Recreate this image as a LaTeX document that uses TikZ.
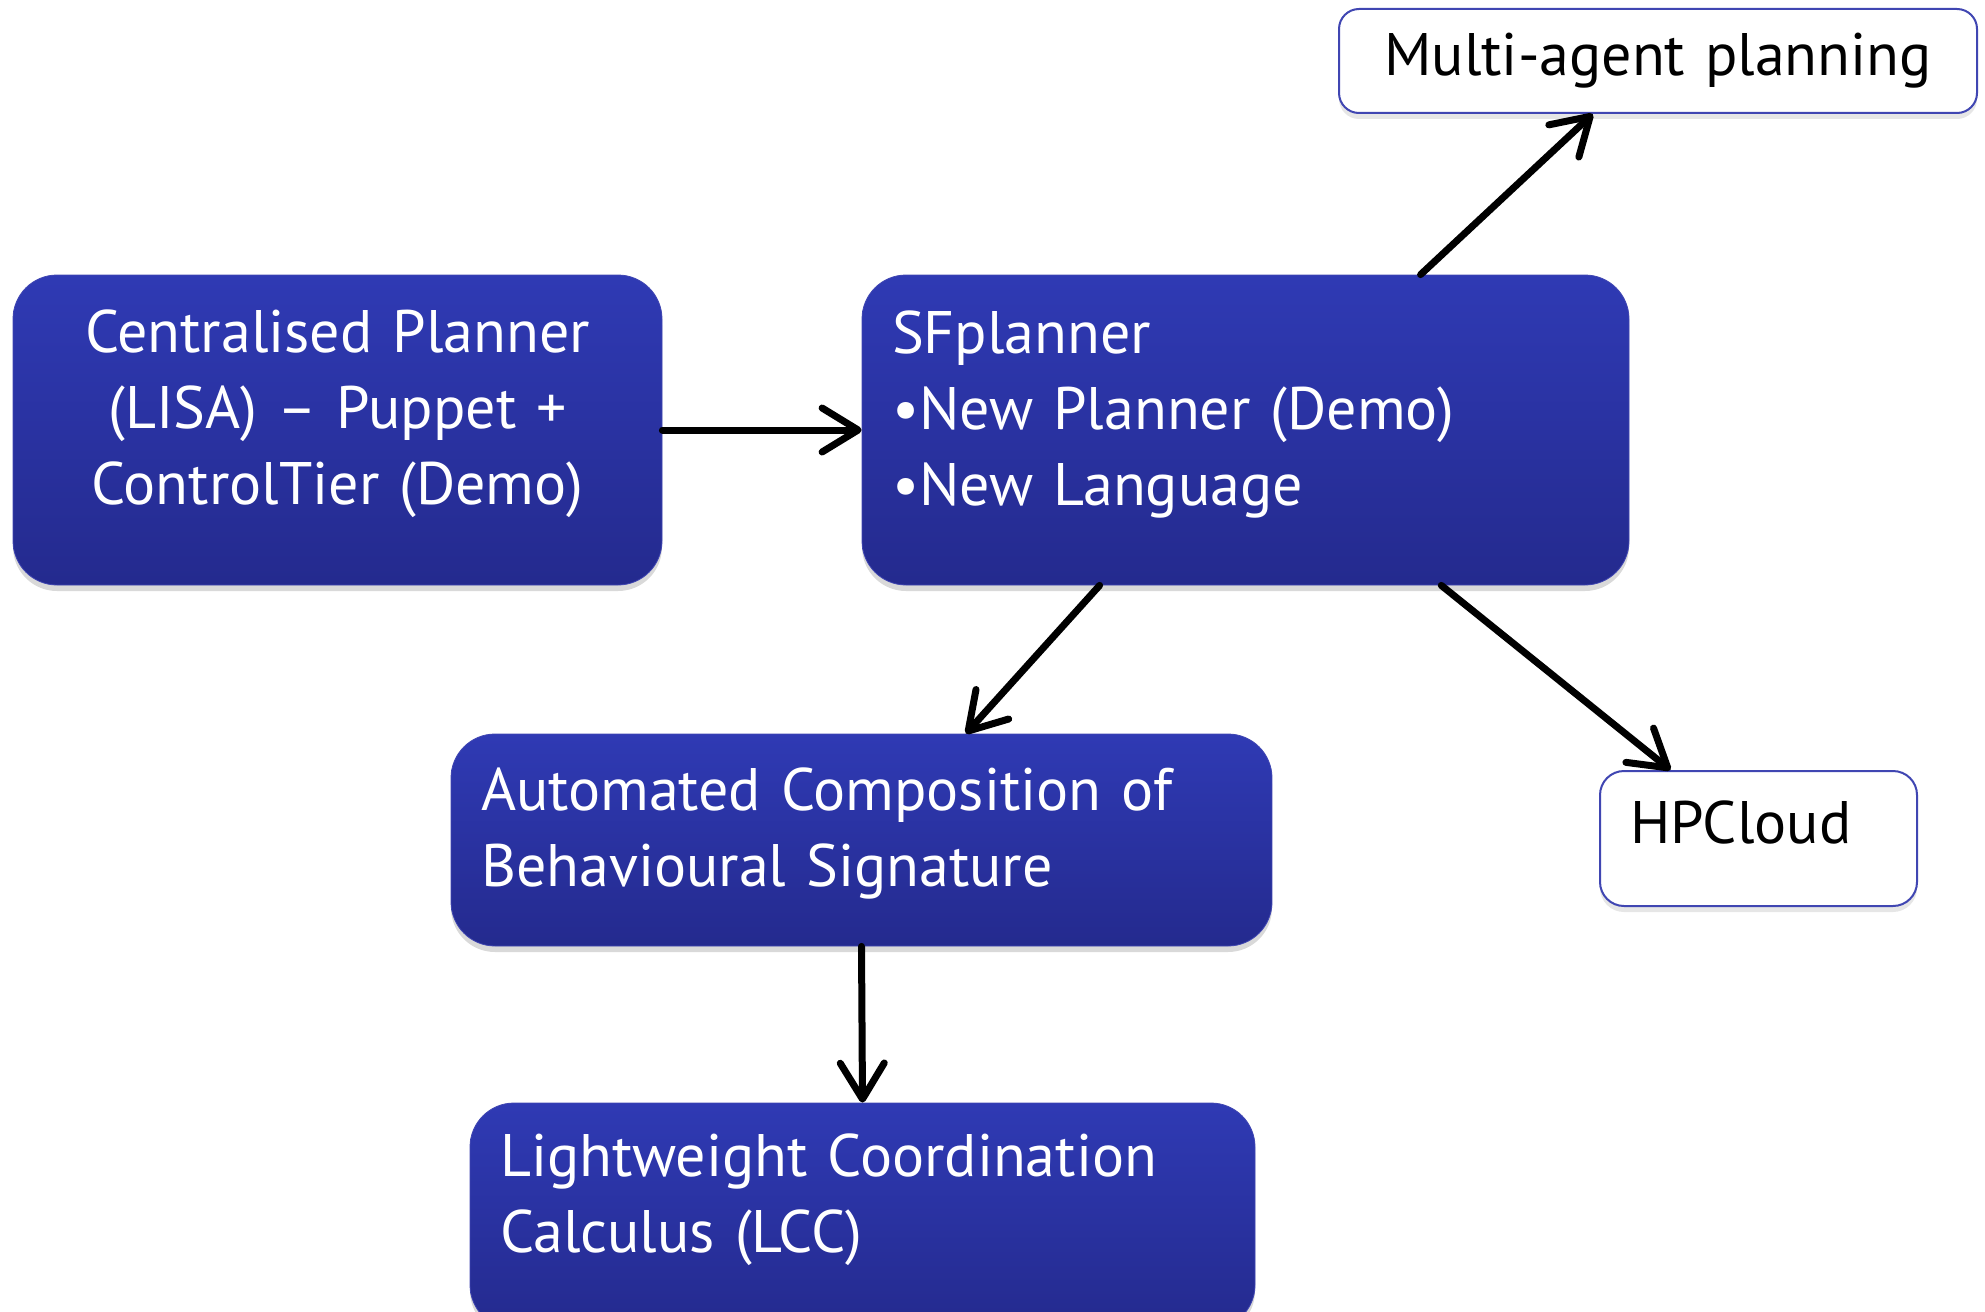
\documentclass[tikz,border=0pt]{standalone}
\usepackage{fontspec}
\setmainfont{PT Sans}
\usetikzlibrary{arrows.meta,shadows,calc}

\definecolor{boxtop}{RGB}{47,58,180}
\definecolor{boxbottom}{RGB}{36,42,142}
\definecolor{boxedge}{RGB}{64,70,178}
\hyphenpenalty=10000

\begin{document}
\begin{tikzpicture}[x=0.5pt,y=-0.5pt]
  \def\padding{15pt}
  \tikzstyle{bluebox} = [rounded corners=22pt, draw=boxedge, thin, top color=boxtop, bottom color=boxbottom, text=white, inner xsep=\padding, inner ysep=0pt, font=\fontsize{30}{38}\selectfont, drop shadow={shadow xshift=0pt, shadow yshift=-3pt, opacity=0.3}]
  \tikzstyle{whitebox} = [rounded corners=10pt, draw=boxedge, line width=1pt, fill=white, text=black, inner xsep=\padding, inner ysep=0pt, font=\fontsize{30}{38}\selectfont, drop shadow={shadow xshift=0pt, shadow yshift=-3pt, opacity=0.2}]
  \tikzset{raised/.style={execute at end node={\endgraf\vspace{#1}}}, raised/.default=16pt}
  \tikzstyle{link} = [line width=3.5pt, line cap=round, -{Straight Barb[length=18pt, width=22pt, line cap=round, line join=round]}]

  \useasboundingbox (0,0) rectangle (1985,1311);

  \node[bluebox, raised, text width=294.5pt, minimum height=155pt, align=center] (central) at (337.5,430) {Centralised Planner\\(LISA) – Puppet +\\ControlTier (Demo)};
  \node[bluebox, raised, text width=353.5pt, minimum height=155pt, align=left] (sfp) at (1245.5,430) {SFplanner\\•New Planner (Demo)\\•New Language};
  \node[whitebox, text width=289pt, minimum height=52pt, align=center] (multi) at (1658,61) {Multi-agent planning};
  \node[bluebox, raised=7pt, text width=380.5pt, minimum height=106pt, align=left] (auto) at (861.5,840) {Automated Composition of\\Behavioural Signature};
  \node[whitebox, raised, rounded corners=12pt, text width=128.5pt, minimum height=67.5pt, align=left] (hpc) at (1758.5,838.5) {HPCloud};
  \node[bluebox, raised, text width=362.5pt, minimum height=113pt, align=left] (lcc) at (862.5,1216) {Lightweight Coordination\\Calculus (LCC)};

  \draw[link] (central.east) -- (sfp.west);
  \draw[link] ($(sfp.north west)!0.728!(sfp.north east)$) -- ($(multi.south west)!0.398!(multi.south east)$);
  \draw[link] ($(sfp.south west)!0.31!(sfp.south east)$) -- ($(auto.north west)!0.627!(auto.north east)$);
  \draw[link] ($(sfp.south west)!0.755!(sfp.south east)$) -- ($(hpc.north west)!0.224!(hpc.north east)$);
  \draw[link] (auto.south) -- (lcc.north);
\end{tikzpicture}
\end{document}
